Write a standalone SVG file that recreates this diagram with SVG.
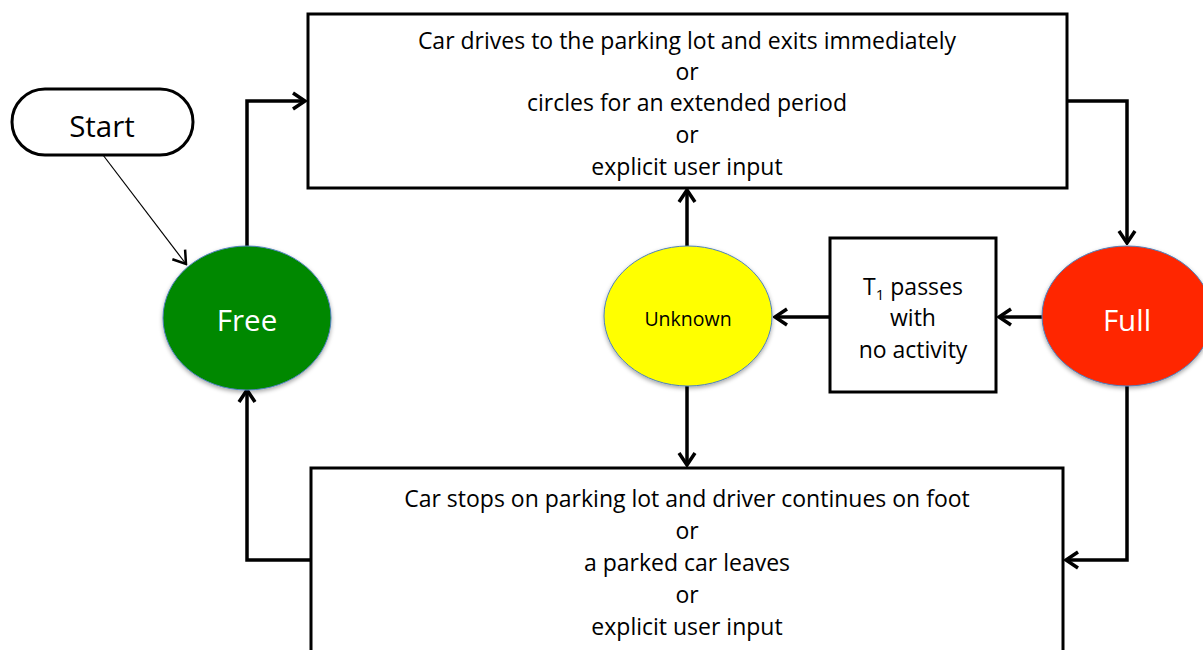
<svg xmlns="http://www.w3.org/2000/svg" width="1203" height="650" viewBox="0 0 1203 650">
<style>
.box{fill:#fff;stroke:#000;stroke-width:3}
.conn{fill:none;stroke:#000;stroke-width:3.5}
.thin{fill:none;stroke:#000;stroke-width:1.2}
.t{font-family:"Open Sans","Liberation Sans",Arial,sans-serif;font-size:23px;fill:#000;text-anchor:middle}
.big{font-family:"Open Sans","Liberation Sans",Arial,sans-serif;font-size:29.5px;text-anchor:middle}
.ell{stroke:#4f81bd;stroke-width:1}
</style>
<defs>
<marker id="ah" markerUnits="userSpaceOnUse" viewBox="-14 -10 16 20" refX="0" refY="0" markerWidth="16" markerHeight="20" orient="auto">
<path d="M-12,-8 L0,0 L-12,8" fill="none" stroke="#000" stroke-width="3.5"/>
</marker>
<marker id="ahs" markerUnits="userSpaceOnUse" viewBox="-14 -10 16 20" refX="0" refY="0" markerWidth="16" markerHeight="20" orient="auto">
<path d="M-12,-8 L0,0 L-12,8" fill="none" stroke="#000" stroke-width="2.5"/>
</marker>
<filter id="sh" x="-20%" y="-20%" width="140%" height="140%">
<feDropShadow dx="0" dy="2" stdDeviation="2" flood-color="#000" flood-opacity="0.35"/>
</filter>
</defs>

<g id="connectors">
<line class="thin" x1="103" y1="155" x2="186" y2="264" marker-end="url(#ahs)"/>
<polyline class="conn" points="247,246 247,101 305,101" marker-end="url(#ah)"/>
<polyline class="conn" points="1067,101 1127,101 1127,243" marker-end="url(#ah)"/>
<line class="conn" x1="1043" y1="317" x2="999" y2="317" marker-end="url(#ah)"/>
<line class="conn" x1="830" y1="317" x2="775" y2="317" marker-end="url(#ah)"/>
<line class="conn" x1="687" y1="246" x2="687" y2="190" marker-end="url(#ah)"/>
<line class="conn" x1="687" y1="386" x2="687" y2="465" marker-end="url(#ah)"/>
<polyline class="conn" points="311,560 247,560 247,390" marker-end="url(#ah)"/>
<polyline class="conn" points="1127,386 1127,560 1066,560" marker-end="url(#ah)"/>
</g>

<g id="start">
<rect class="box" x="12" y="89" width="181" height="66" rx="33" ry="33"/>
<text class="big" x="102" y="137" fill="#000">Start</text>
</g>

<g id="free">
<ellipse class="ell" cx="247" cy="318" rx="84" ry="72" fill="#008800" filter="url(#sh)"/>
<text class="big" x="247" y="331" fill="#fff">Free</text>
</g>

<g id="top-box">
<rect class="box" x="308" y="14" width="759" height="174"/>
<text class="t" x="687" y="49">Car drives to the parking lot and exits immediately</text>
<text class="t" x="687" y="80">or</text>
<text class="t" x="687" y="111">circles for an extended period</text>
<text class="t" x="687" y="143">or</text>
<text class="t" x="687" y="175">explicit user input</text>
</g>

<g id="unknown">
<ellipse class="ell" cx="688" cy="316" rx="84" ry="70" fill="#ffff00" filter="url(#sh)"/>
<text class="t" x="688" y="326" style="font-size:19.5px">Unknown</text>
</g>

<g id="t1-box">
<rect class="box" x="830" y="238" width="166" height="154"/>
<text class="t" x="913" y="295">T<tspan font-size="15" dy="5">1</tspan><tspan dy="-5"> passes</tspan></text>
<text class="t" x="913" y="326">with</text>
<text class="t" x="913" y="358">no activity</text>
</g>

<g id="full">
<ellipse class="ell" cx="1127" cy="316" rx="85" ry="70" fill="#ff2600" filter="url(#sh)"/>
<text class="big" x="1127" y="331" fill="#fff">Full</text>
</g>

<g id="bottom-box">
<rect class="box" x="311" y="468" width="752" height="200"/>
<text class="t" x="687" y="507">Car stops on parking lot and driver continues on foot</text>
<text class="t" x="687" y="539">or</text>
<text class="t" x="687" y="571">a parked car leaves</text>
<text class="t" x="687" y="603">or</text>
<text class="t" x="687" y="635">explicit user input</text>
</g>
</svg>
